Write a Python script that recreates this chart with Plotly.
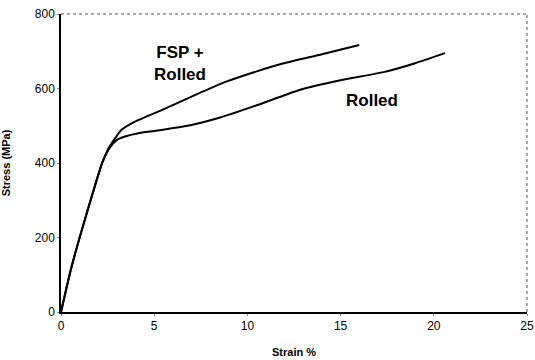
import plotly.graph_objects as go

rolled_strain = [0, 0.5, 1.0, 1.5, 1.9, 2.2, 2.6, 3.0, 3.43, 4.15, 5.0, 5.94, 7.0, 8.4, 10.5, 12.8, 15.0, 17.3, 19.0, 20.6]
rolled_stress = [0, 108, 200, 285, 352, 399, 440, 462, 471, 480, 486, 493, 502, 520, 555, 596, 622, 644, 668, 695]
fsp_strain = [0, 0.5, 1.0, 1.5, 1.9, 2.2, 2.63, 3.25, 3.97, 5.4, 7.3, 8.9, 10.5, 11.9, 14.0, 16.0]
fsp_stress = [0, 108, 200, 285, 352, 399, 446, 489, 511, 542, 585, 619, 646, 667, 692, 717]
x_ticks = [0, 5, 10, 15, 20, 25]
y_ticks = [0, 200, 400, 600, 800]

fig = go.Figure()
fig.add_trace(go.Scatter(x=rolled_strain, y=rolled_stress, mode="lines", name="Rolled",
                         line=dict(color="black", width=2, shape="spline", smoothing=0.5)))
fig.add_trace(go.Scatter(x=fsp_strain, y=fsp_stress, mode="lines", name="FSP + Rolled",
                         line=dict(color="black", width=2, shape="spline", smoothing=0.5)))

fig.update_layout(
    width=535, height=360,
    margin=dict(l=61, r=8, t=14, b=48, autoexpand=False),
    paper_bgcolor="white", plot_bgcolor="white",
    showlegend=False,
    font=dict(family="Liberation Sans, Arial", size=11, color="black"),
    xaxis=dict(range=[0, 25], tickvals=x_ticks, showgrid=False, zeroline=False,
               showline=True, linecolor="black", linewidth=1.5, automargin=False,
               ticks="outside", ticklen=2, tickcolor="#888",
               tickfont=dict(size=12, family="Liberation Sans, Arial", color="black"),
               title=dict(text="<b>Strain %</b>", font=dict(size=11), standoff=16)),
    yaxis=dict(range=[0, 800], tickvals=y_ticks, showgrid=False, zeroline=False,
               showline=True, linecolor="black", linewidth=1.5, automargin=False,
               ticks="outside", ticklen=2, tickcolor="#888",
               tickfont=dict(size=12, family="Liberation Sans, Arial", color="black"),
               title=dict(text="<b>Stress (MPa)</b>", font=dict(size=11), standoff=24)),
)
# dashed top and right frame
fig.add_shape(type="line", xref="paper", yref="paper", x0=0, x1=1, y0=1, y1=1,
              line=dict(color="#555", width=1, dash="dot"))
fig.add_shape(type="line", xref="paper", yref="paper", x0=1, x1=1, y0=0, y1=1,
              line=dict(color="#555", width=1, dash="dot"))

fig.add_annotation(x=6.4, y=667, text="<b>FSP +<br>Rolled</b>", showarrow=False,
                   font=dict(size=17, family="Liberation Sans, Arial", color="black"),
                   align="center")
fig.add_annotation(x=16.7, y=569, text="<b>Rolled</b>", showarrow=False,
                   font=dict(size=17, family="Liberation Sans, Arial", color="black"))

fig.write_html("out.html", config={"displayModeBar": False},
               post_script="document.body.style.margin='0';")
